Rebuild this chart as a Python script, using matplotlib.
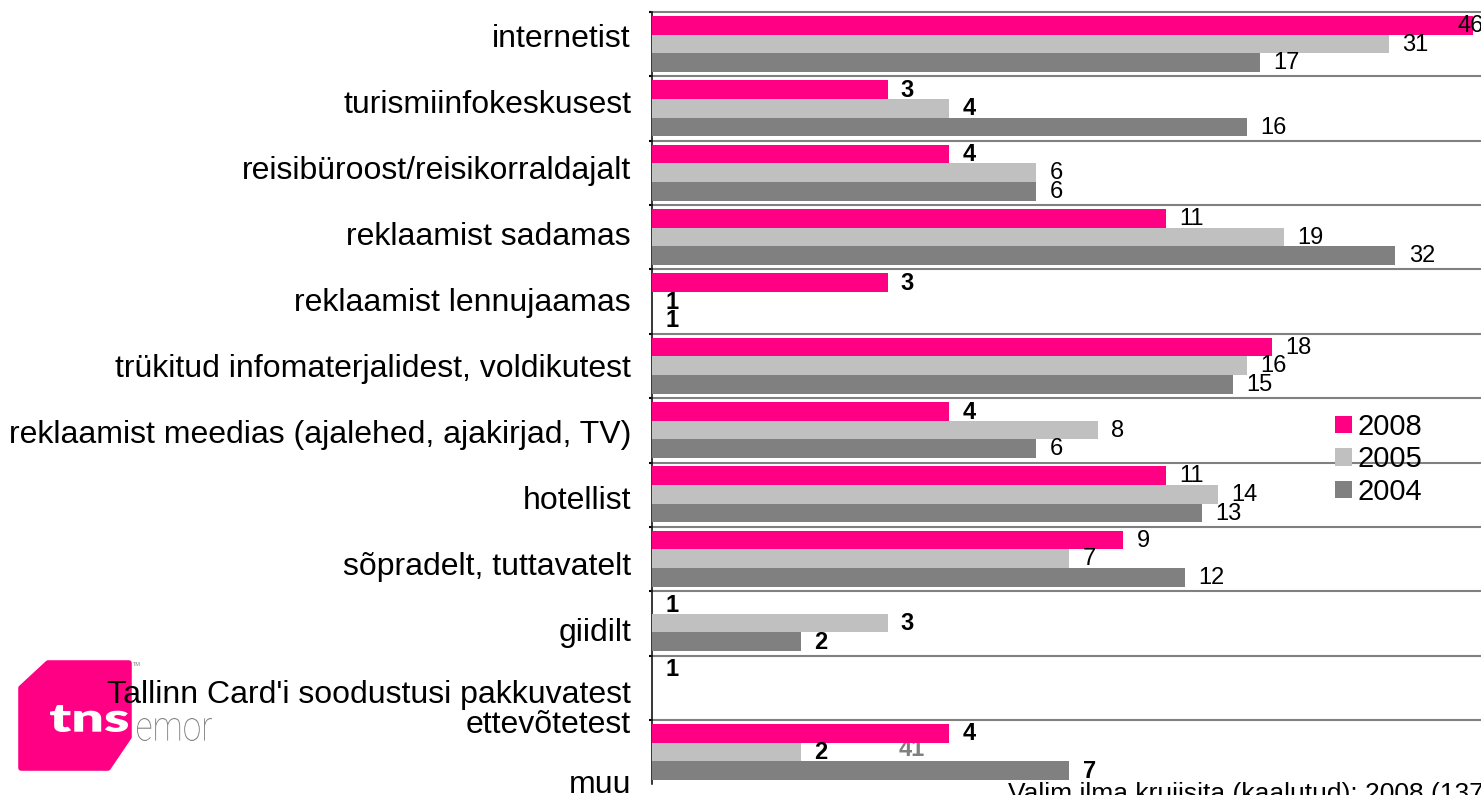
import numpy as np
import matplotlib
matplotlib.use("Agg")
import matplotlib.pyplot as plt
from matplotlib.textpath import TextPath
from matplotlib.font_manager import FontProperties
from matplotlib.patches import PathPatch, Polygon
from matplotlib.transforms import Affine2D, blended_transform_factory

plt.rcParams['font.family'] = ['Liberation Sans', 'DejaVu Sans']

categories = [
    "internetist",
    "turismiinfokeskusest",
    "reisibüroost/reisikorraldajalt",
    "reklaamist sadamas",
    "reklaamist lennujaamas",
    "trükitud infomaterjalidest, voldikutest",
    "reklaamist meedias (ajalehed, ajakirjad, TV)",
    "hotellist",
    "sõpradelt, tuttavatelt",
    "giidilt",
    "Tallinn Card'i soodustusi pakkuvatest\nettevõtetest",
    "muu",
]
years = ["2008", "2005", "2004"]
v2008 = [46, 3, 4, 11, 3, 18, 4, 11, 9, 1, 1, 4]
v2005 = [31, 4, 6, 19, 1, 16, 8, 14, 7, 3, np.nan, 2]
v2004 = [17, 16, 6, 32, 1, 15, 6, 13, 12, 2, np.nan, 7]
series = [v2008, v2005, v2004]
colors = ["#FF0084", "#C0C0C0", "#808080"]
footnote = "Valim ilma kruiisita (kaalutud): 2008 (137)"

W, H = 1481, 795
fig = plt.figure(figsize=(W / 100, H / 100), dpi=100)

# background layer in pixel coordinates (logo etc.)
bg = fig.add_axes([0, 0, 1, 1], zorder=0)
bg.set_xlim(0, W)
bg.set_ylim(H, 0)
bg.axis("off")

ax_top, ax_bot, ax_left = 12, 784.4, 652
ax = fig.add_axes([ax_left / W, 1 - ax_bot / H, (W - ax_left) / W, (ax_bot - ax_top) / H], zorder=1)
ax.set_facecolor("none")

n = len(categories)
y = np.arange(n)
offsets = [-0.295, -0.005, 0.285]
bar_h = 0.29

ax.set_xscale("log")
ax.set_xlim(1, np.exp((W - ax_left) / 214.5))
ax.set_ylim(n - 0.5, -0.5)

handles = []
for vals, off, col, yr in zip(series, offsets, colors, years):
    vals = np.array(vals, dtype=float)
    b = ax.barh(y + off, vals - 1, left=1, height=bar_h, color=col, label=yr, zorder=3)
    handles.append(b)
    for i, v in enumerate(vals):
        if np.isnan(v):
            continue
        bold = v <= 4 or categories[i] == "muu"
        dx = -11 if v == np.nanmax(series[0]) else 9.5
        ax.annotate(f"{int(v)}", xy=(v, y[i] + off), xytext=(dx, -0.5),
                    textcoords="offset points", ha="left", va="center",
                    fontsize=17, fontweight="bold" if bold else "normal",
                    color="black", zorder=4, annotation_clip=False)

# group separators
for s in np.arange(-0.5, n - 1, 1.0):
    ax.axhline(s, color="#808080", lw=1.5, zorder=2, clip_on=False)

for side in ["top", "right", "bottom"]:
    ax.spines[side].set_visible(False)
ax.spines["left"].set_color("black")
ax.spines["left"].set_linewidth(1.1)
ax.set_xticks([])
ax.set_xticks([], minor=True)
ax.set_yticks([])
ax.set_yticks(np.arange(-0.5, n - 1, 1.0), minor=True)
ax.tick_params(axis="y", which="minor", length=2, width=1.5, direction="out", labelleft=False)

# category labels
label_y = np.arange(n) * 1.026 - 0.08
label_y[10] += 0.16
label_y[11] += 0.31
trans = blended_transform_factory(ax.transAxes, ax.transData)
for lab, ly in zip(categories, label_y):
    ax.text(-21 / (W - ax_left), ly, lab, transform=trans, ha="right", va="center",
            fontsize=23, linespacing=1.0, clip_on=False, zorder=5)

leg = ax.legend(handles=handles, loc="upper left", bbox_to_anchor=(1335 / W, 1 - 413 / H),
                bbox_transform=fig.transFigure, frameon=False, fontsize=21,
                borderpad=0, borderaxespad=0, handlelength=0.58, handleheight=0.55,
                handletextpad=0.2, labelspacing=0.15)

# stray label behind the last group
ax.text(912 / W, 1 - 749 / H, "41", transform=fig.transFigure, ha="center", va="center",
        fontsize=17, fontweight="bold", color="#808080", zorder=1)

fig.text(1008 / W, 1 - 801 / H, footnote, ha="left", va="baseline", fontsize=19)

# logo
bg.add_patch(Polygon([(21, 688), (48, 663), (129, 663), (129, 737), (108, 768), (21, 768)],
                     closed=True, facecolor="#FF0084", edgecolor="#FF0084", lw=4, joinstyle="round"))


def fit_text(s, x0, x1, ytop, ybase, color, prop):
    tp = TextPath((0, 0), s, size=10, prop=prop)
    bb = tp.get_extents()
    tr = Affine2D().translate(-bb.x0, -bb.y0).scale((x1 - x0) / bb.width, -(ybase - ytop) / bb.height).translate(x0, ybase)
    bg.add_patch(PathPatch(tr.transform_path(tp), facecolor=color, edgecolor="none"))


fit_text("tns", 50, 128, 705, 732, "white", FontProperties(family="Lato", weight="heavy"))
fit_text("emor", 137, 212, 718, 741, "#808080", FontProperties(family="Roboto", weight="light"))
bg.text(133, 664, "TM", fontsize=4, color="#808080", ha="left", va="center")

fig.savefig("out.png", dpi=100)
